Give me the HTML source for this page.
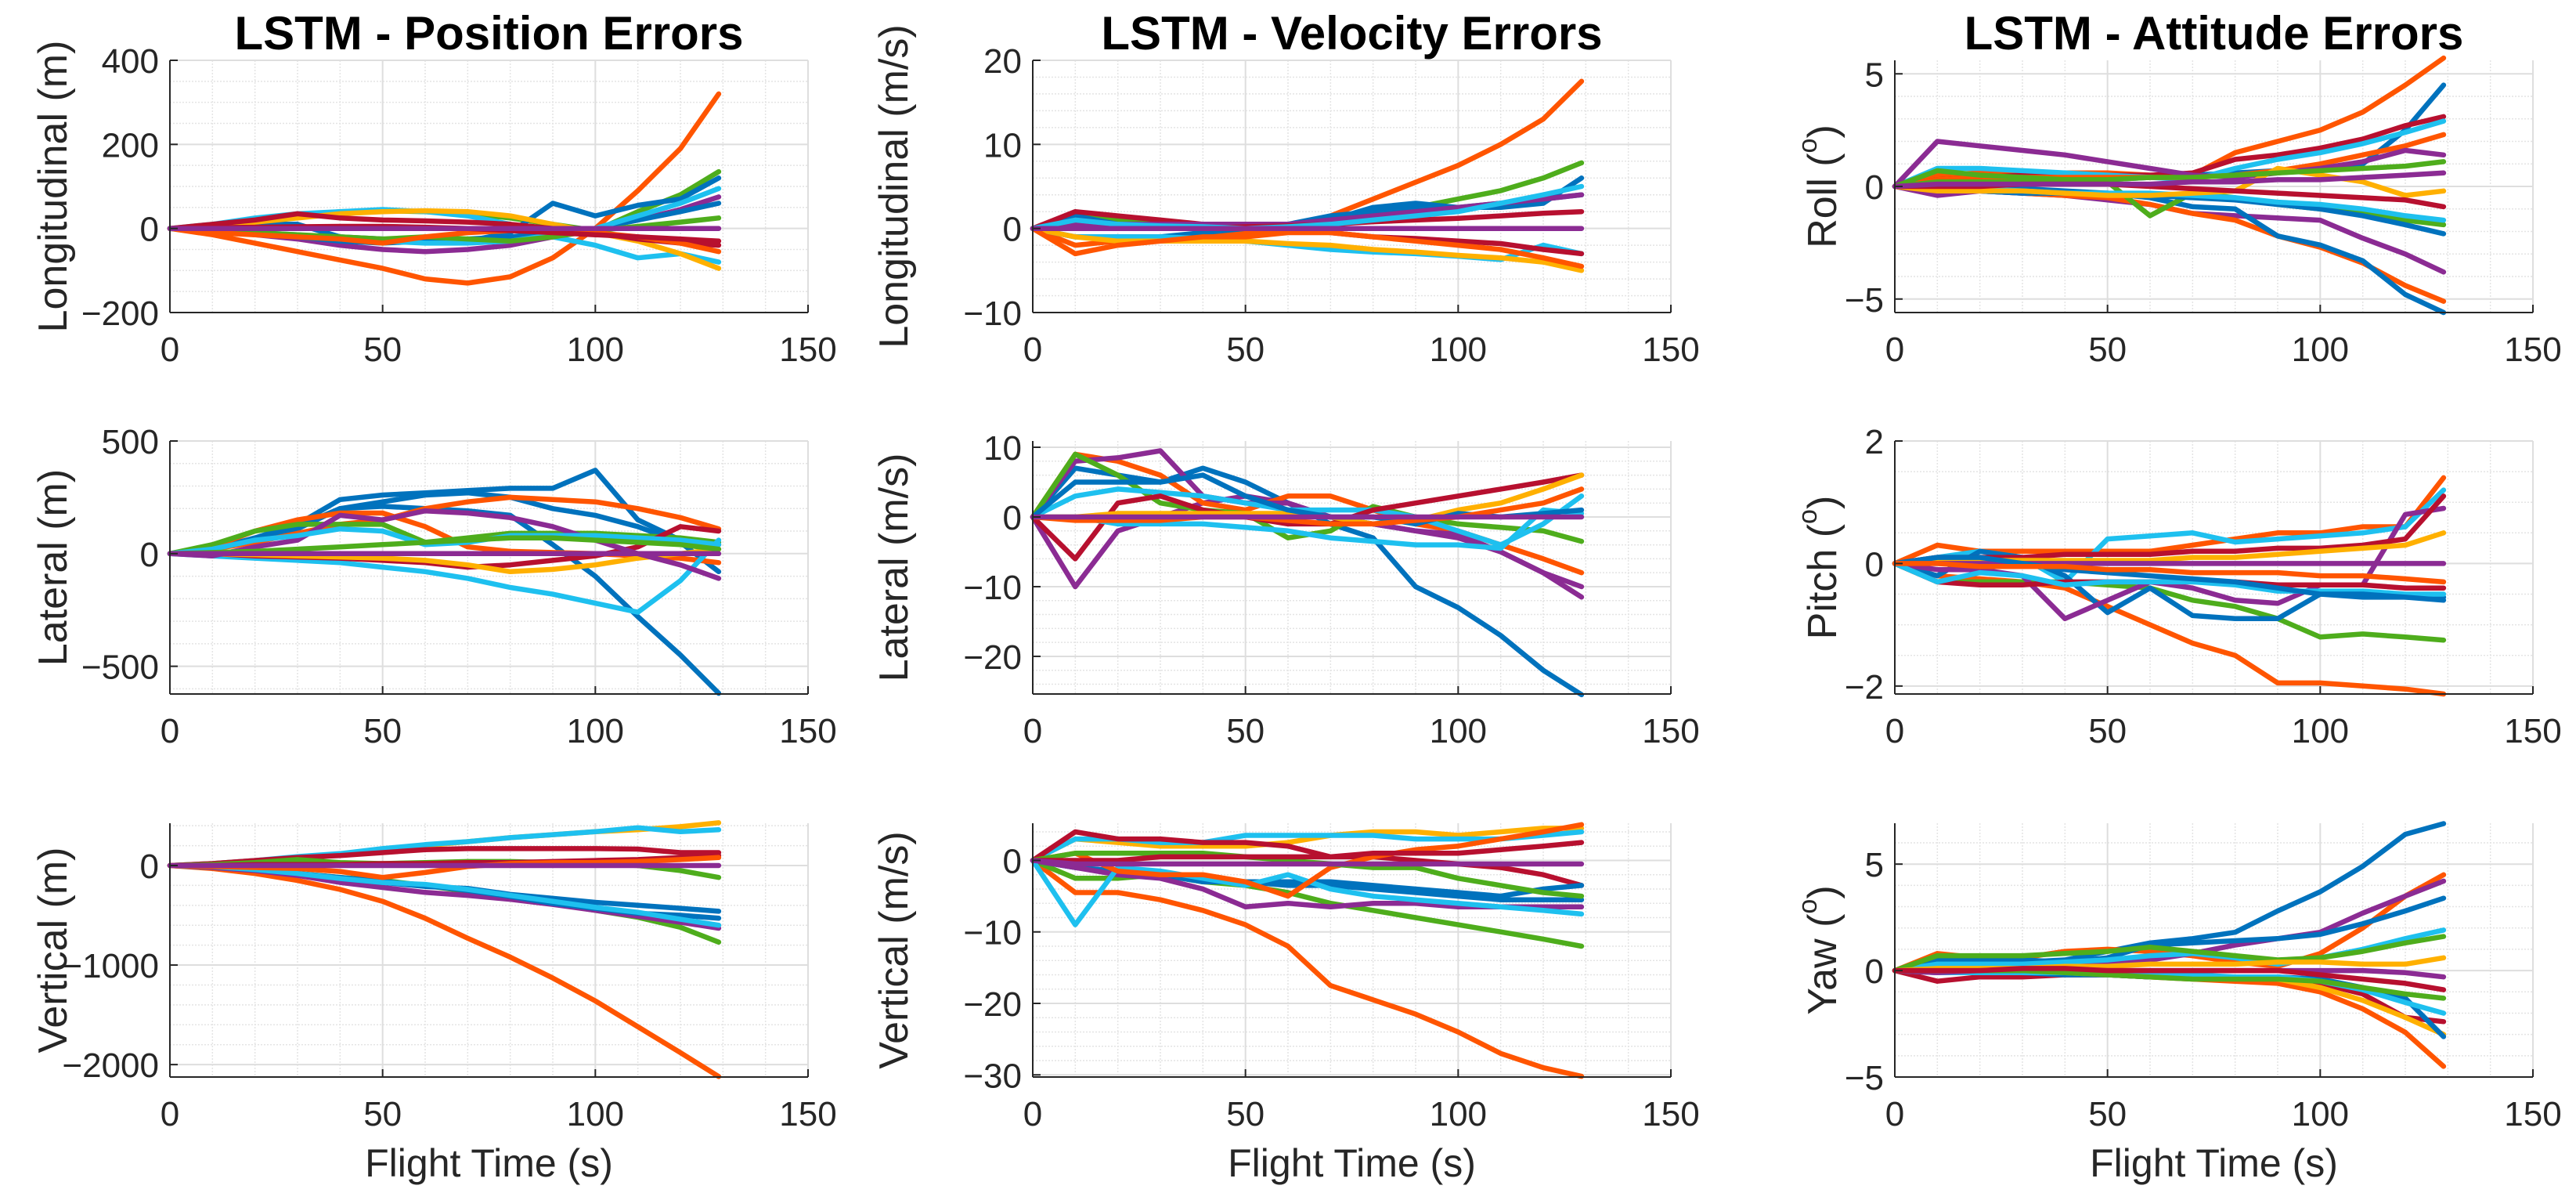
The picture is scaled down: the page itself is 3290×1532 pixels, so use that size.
<!DOCTYPE html>
<html><head><meta charset="utf-8">
<style>
html,body{margin:0;padding:0;background:#fff;}
svg{display:block;font-family:"Liberation Sans",Arial,sans-serif;}
</style></head>
<body>
<svg id="fig" width="3290" height="1532" viewBox="0 0 3290 1532" xmlns="http://www.w3.org/2000/svg"></svg>
<script>
// ---- data ----
const T = [0,10,20,30,40,50,60,70,80,90,100,110,120,129];
const xTicks = [0,50,100,150];

const posLong = [
 [0,-15,-35,-55,-75,-95,-120,-130,-115,-70,0,90,190,320],
 [0,5,20,30,40,42,40,35,25,10,-5,40,80,135],
 [0,3,10,10,-20,-25,-30,-30,-10,60,30,55,70,120],
 [0,10,25,35,40,45,40,30,10,-20,-40,-70,-60,-80],
 [0,5,15,25,35,40,42,40,30,10,-10,-30,-60,-95],
 [0,10,20,35,25,20,18,15,10,0,-10,-25,-35,-40],
 [0,-5,-15,-25,-40,-50,-55,-50,-40,-20,0,20,45,75],
 [0,-5,-10,-20,-30,-35,-30,-25,-20,-10,0,20,40,60],
 [0,-5,-10,-15,-25,-30,-35,-35,-30,-15,0,30,60,95],
 [0,-5,-10,-15,-20,-25,-20,-25,-30,-20,-5,5,15,25],
 [0,-10,-15,-20,-25,-35,-20,-10,-5,-5,-10,-20,-35,-55],
 [0,2,3,4,5,5,3,0,-5,-10,-15,-20,-25,-30],
 [0,0,0,0,0,0,0,0,0,0,0,0,0,0]];
const posLongColors = ["o","g","b","c","y","r","p","b","c","g","o","r","p"];

const posLat = [
 [0,20,70,130,240,260,270,280,290,290,370,150,60,40],
 [0,20,60,120,200,210,200,190,170,40,-100,-280,-450,-620],
 [0,20,60,110,200,230,260,270,250,200,170,120,50,-80],
 [0,20,50,90,130,150,200,230,250,240,230,200,160,110],
 [0,30,100,150,180,180,120,30,10,5,0,-10,-20,-40],
 [0,40,100,130,130,130,50,70,90,90,90,80,70,50],
 [0,-10,-20,-30,-40,-60,-80,-110,-150,-180,-220,-260,-120,60],
 [0,0,-10,-15,-20,-30,-40,-60,-50,-30,-10,30,120,100],
 [0,0,-5,-10,-15,-20,-30,-50,-80,-70,-50,-20,0,20],
 [0,-10,30,60,170,150,190,180,160,120,60,0,-50,-110],
 [0,20,60,80,110,100,40,50,80,80,80,70,60,40],
 [0,5,10,20,30,40,50,60,70,70,60,50,40,20],
 [0,0,0,0,0,0,0,0,0,0,0,0,0,0]];
const posLatColors = ["b","b","b","o","o","g","c","r","y","p","c","g","p"];

const posVert = [
 [0,-30,-80,-150,-240,-360,-530,-730,-920,-1130,-1360,-1620,-1880,-2120],
 [0,20,50,80,110,160,200,240,280,310,340,360,390,430],
 [0,20,50,90,120,170,210,240,280,310,340,380,340,360],
 [0,20,50,80,100,130,160,170,170,170,170,165,130,130],
 [0,-20,-50,-80,-120,-150,-200,-260,-320,-380,-450,-520,-620,-770],
 [0,-20,-50,-100,-170,-220,-270,-300,-340,-390,-450,-510,-570,-630],
 [0,-10,-40,-80,-130,-170,-210,-230,-290,-330,-370,-400,-430,-460],
 [0,-10,-40,-80,-120,-160,-200,-250,-310,-380,-430,-480,-500,-530],
 [0,-10,-40,-80,-130,-170,-190,-240,-300,-360,-420,-470,-540,-600],
 [0,10,30,60,30,20,30,40,40,30,20,0,-50,-120],
 [0,0,10,10,10,20,20,30,30,40,50,60,80,100],
 [0,-10,-20,-30,-60,-120,-70,-10,20,30,30,40,60,80],
 [0,0,0,0,0,0,0,0,0,0,0,0,0,0]];
const posVertColors = ["o","y","c","r","g","p","b","b","c","g","r","o","p"];

const velLong = [
 [0,-2,-1.5,-1,-0.8,-0.5,0,1.5,3.5,5.5,7.5,10,13,17.5],
 [0,1.5,1,0.5,0,0,0.3,1,1.5,2.5,3.5,4.5,6,7.8],
 [0,1.5,0.5,0,0,0,0.5,1,2.5,3,2.5,2.5,3,6],
 [0,-1,-1,-1,-0.5,0,0.5,1.5,2,2.5,2.5,3,3.5,4],
 [0,-1,-1,-1,-1.2,-1.5,-2,-2.5,-2.8,-3,-3.3,-3.7,-2,-3],
 [0,-1,-1.5,-1.5,-1.5,-1.5,-1.8,-2,-2.5,-2.8,-3.2,-3.5,-4,-5],
 [0,2,1.5,1,0.5,0.3,0,-0.5,-1,-1.2,-1.5,-1.8,-2.5,-3],
 [0,0.5,0.5,0.5,0.5,0.5,0.5,1,1.5,2,2.5,3,3.5,4],
 [0,-3,-2,-1.5,-1,-1,-0.5,-0.5,-1,-1.5,-2,-2.5,-3.5,-4.5],
 [0,1,0.5,0,0,0.2,0.3,0.5,0.8,1,1.2,1.5,1.8,2],
 [0,1,0.5,0.3,0.2,0,0.2,0.5,1,1.5,2,3,4,5],
 [0,0,0,0,0,0,0,0,0,0,0,0,0,0]];
const velLongColors = ["o","g","b","b","c","y","r","p","o","r","c","p"];

const velLat = [
 [0,7,6,5,7,5,2,-1,-3,-10,-13,-17,-22,-25.5],
 [0,-10,-2,0,2,3,2,0,-1,-2,-3,-5,-8,-11.5],
 [0,9,8,6,2,1,3,3,1,-1,-2,-4,-6,-8],
 [0,8,8.5,9.5,3,2,2,0,-1,-2,-2.5,-5,-8,-10],
 [0,9,6,2,1,0.5,-3,-2,1.5,0,-1,-1.5,-2,-3.5],
 [0,3,4,3.5,3,2,1,1,1,0,-2,-4,-1,3],
 [0,-6,2,3,1,0,-1,-1,1,2,3,4,5,6],
 [0,0,-1,-1,-1,-1.5,-2,-3,-3.5,-4,-4,-4.5,1,0.5],
 [0,0,0.5,0.5,0.5,0.5,0.5,0,-1,-0.5,1,2,4,6],
 [0,5,5,5,6,3,1,0,0,-1,0.5,0,0.5,1],
 [0,-0.5,-0.5,-0.5,0,0,-0.5,-1,-1,-0.5,0,1,2,4],
 [0,0,0,0,0,0,0,0,0,0,0,0,0,0]];
const velLatColors = ["b","p","o","p","g","c","r","c","y","b","o","p"];

const velVert = [
 [0,-4.5,-4.5,-5.5,-7,-9,-12,-17.5,-19.5,-21.5,-24,-27,-29,-30.2],
 [0,-2.5,-2.5,-2,-3,-3.5,-4.5,-6,-7,-8,-9,-10,-11,-12],
 [0,3,2.5,2,2,2,2.5,3.5,4,4,3.5,4,4.5,4.5],
 [0,3,3,2.5,2.5,3.5,3.5,3.5,3.5,3,3,3,3.5,4],
 [0,4,3,3,2.5,2.5,2,0.5,0.5,0,-0.5,-1,-2,-3.5],
 [0,-1,-1.5,-2,-3,-3,-3.5,-3.5,-4,-4.5,-5,-5.5,-5.5,-5.5],
 [0,-1,-1.5,-2,-2.5,-3,-3,-3,-3.5,-4,-4.5,-5,-4,-3.5],
 [0,-1,-2,-2.5,-4,-6.5,-6,-6.5,-6,-6,-6.5,-6.5,-6.5,-6.5],
 [0,-9,-1,-1.5,-2.5,-3.5,-2,-4,-5,-5.5,-6,-6.5,-7,-7.5],
 [0,1,-1.5,-2,-2,-3,-5,-1,0.5,1.5,2,3,4,5],
 [0,1,1,1,1,0.5,0,-0.5,-1,-1,-2.5,-3.5,-4.5,-5],
 [0,0,0,0.5,0.5,0.5,0.5,0.5,1,1,1,1.5,2,2.5],
 [0,-0.5,-0.5,-0.5,-0.5,-0.5,-0.5,-0.5,-0.5,-0.5,-0.5,-0.5,-0.5,-0.5]];
const velVertColors = ["o","g","y","c","r","b","b","p","c","o","g","r","p"];

const attRoll = [
 [0,0.5,0.6,0.6,0.6,0.6,0.5,0.5,1.5,2,2.5,3.3,4.5,5.7],
 [0,0.2,0.3,0.3,0.3,0.3,0.4,0.5,0.6,0.7,0.8,1,2.5,4.5],
 [0,0.3,0.4,0.5,0.5,0.5,0.5,0.6,1.2,1.4,1.7,2.1,2.7,3.1],
 [0,0.8,0.8,0.7,0.6,0.5,0.4,0.3,0.8,1.2,1.5,1.9,2.4,2.9],
 [0,0.3,0.4,0.4,0.4,0.4,0.4,0.4,0.5,0.7,1,1.4,1.8,2.3],
 [0,2,1.8,1.6,1.4,1.1,0.8,0.5,0.4,0.6,0.8,1.1,1.6,1.4],
 [0,-0.4,-0.2,-0.3,-0.4,-0.6,-0.8,-1.2,-1.3,-1.4,-1.5,-2.3,-3,-3.8],
 [0,-0.1,-0.2,-0.3,-0.4,-0.5,-0.8,-1.2,-1.5,-2.2,-2.7,-3.4,-4.4,-5.1],
 [0,-0.1,-0.2,-0.3,-0.3,-0.3,-0.5,-0.9,-1,-2.2,-2.6,-3.3,-4.8,-5.6],
 [0,0.7,0.5,0.4,0.3,0.2,-1.3,-0.3,-0.5,-0.8,-1,-1.2,-1.5,-1.7],
 [0,0.1,0,-0.1,-0.2,-0.3,-0.4,-0.5,-0.6,-0.8,-1,-1.3,-1.7,-2.1],
 [0,0,-0.1,-0.2,-0.3,-0.3,-0.3,-0.4,-0.5,-0.7,-0.8,-1,-1.3,-1.5],
 [0,-0.2,-0.2,-0.2,-0.3,-0.4,-0.4,-0.3,-0.2,0.8,0.5,0.2,-0.4,-0.2],
 [0,0.2,0.2,0.2,0.3,0.3,0.4,0.4,0.5,0.6,0.7,0.8,0.9,1.1],
 [0,0,0,0.1,0.1,0.1,0,-0.1,-0.2,-0.3,-0.4,-0.5,-0.6,-0.9],
 [0,0.1,0.1,0.1,0.1,0.1,0.1,0.2,0.2,0.3,0.3,0.4,0.5,0.6]];
const attRollColors = ["o","b","r","c","o","p","p","o","b","g","b","c","y","g","r","p"];

const attPitch = [
 [0,-0.2,-0.25,-0.3,-0.4,-0.7,-1,-1.3,-1.5,-1.95,-1.95,-2,-2.05,-2.13],
 [0,-0.3,-0.3,-0.3,-0.3,-0.35,-0.4,-0.6,-0.7,-0.9,-1.2,-1.15,-1.2,-1.25],
 [0,0.3,0.2,0.2,0.2,0.2,0.2,0.3,0.4,0.5,0.5,0.6,0.6,1.4],
 [0,0.1,0.2,0.1,-0.3,0.4,0.45,0.5,0.35,0.4,0.45,0.5,0.6,1.2],
 [0,-0.2,0.2,0.1,-0.2,-0.8,-0.4,-0.85,-0.9,-0.9,-0.5,-0.55,-0.55,-0.55],
 [0,-0.1,-0.1,-0.2,-0.9,-0.6,-0.3,-0.4,-0.6,-0.65,-0.35,-0.35,0.8,0.9],
 [0,-0.3,-0.35,-0.35,-0.3,-0.3,-0.3,-0.3,-0.3,-0.35,-0.35,-0.35,-0.4,-0.4],
 [0,0.1,0.1,0.1,0.15,0.15,0.15,0.2,0.2,0.25,0.25,0.3,0.4,1.1],
 [0,0.05,0.05,0.05,0.05,0.05,0.05,0.1,0.1,0.15,0.2,0.25,0.3,0.5],
 [0,-0.3,-0.15,-0.2,-0.35,-0.3,-0.3,-0.3,-0.35,-0.45,-0.45,-0.45,-0.5,-0.5],
 [0,0,0,0,0,0,0,0,0,0,0,0,0,0],
 [0,0.1,0.1,0,-0.1,-0.15,-0.2,-0.25,-0.3,-0.4,-0.5,-0.5,-0.55,-0.6],
 [0,0,-0.05,-0.05,-0.05,-0.1,-0.1,-0.15,-0.15,-0.15,-0.2,-0.2,-0.25,-0.3]];
const attPitchColors = ["o","g","o","c","b","p","r","r","y","c","p","b","o"];

const attYaw = [
 [0,0.5,0.5,0.4,0.5,0.9,1.3,1.5,1.8,2.8,3.7,4.9,6.4,6.9],
 [0,0.8,0.6,0.6,0.9,1,0.9,0.7,0.4,0.2,0.8,2,3.5,4.5],
 [0,-0.1,0,0.1,0.2,0.3,0.5,0.8,1.2,1.5,1.8,2.7,3.5,4.2],
 [0,0.5,0.5,0.5,0.4,0.6,1.2,1.3,1.4,1.5,1.7,2.2,2.8,3.4],
 [0,0.3,0.3,0.3,0.4,0.5,0.7,0.8,0.6,0.3,0.6,1,1.5,1.9],
 [0,0.7,0.7,0.7,0.8,0.9,1.1,0.9,0.7,0.5,0.6,0.9,1.3,1.6],
 [0,0,0,-0.1,-0.2,-0.2,-0.3,-0.4,-0.5,-0.6,-1,-1.8,-2.9,-4.5],
 [0,-0.5,-0.3,-0.3,-0.2,-0.2,-0.3,-0.3,-0.3,-0.3,-0.6,-1.1,-2.2,-2.4],
 [0,0,0,-0.1,-0.1,-0.2,-0.2,-0.3,-0.3,-0.4,-0.8,-1.4,-2.2,-3],
 [0,0,-0.1,-0.1,-0.2,-0.2,-0.3,-0.3,-0.3,-0.3,-0.4,-0.8,-1.3,-3.1],
 [0,-0.1,-0.1,-0.1,-0.1,-0.2,-0.2,-0.2,-0.3,-0.3,-0.5,-0.9,-1.5,-2],
 [0,0.1,0.1,0.1,0.2,0.2,0.3,0.3,0.3,0.4,0.4,0.3,0.3,0.6],
 [0,-0.1,0,0,0,0,0,0,0,0,0,0,-0.1,-0.3],
 [0,0,0,0,-0.1,-0.2,-0.3,-0.4,-0.4,-0.4,-0.5,-0.8,-1.1,-1.3],
 [0,0,0,0.1,0.1,0,0,0,0,0,-0.2,-0.4,-0.6,-0.9]];
const attYawColors = ["b","o","p","b","c","g","o","r","y","b","c","y","p","g","r"];

// ---- rendering ----
const PAL = {b:"#0072BD",o:"#FF5500",y:"#FFB000",p:"#8B2B93",g:"#4EAD1C",c:"#1EC0EF",r:"#B7102F"};
const NS = "http://www.w3.org/2000/svg";
const svg = document.getElementById("fig");
function mk(tag, attrs, parent){
  const e = document.createElementNS(NS, tag);
  for (const k in attrs) e.setAttribute(k, attrs[k]);
  (parent||svg).appendChild(e);
  return e;
}
const COLX = [217, 1319, 2420];
const AXW = 815;
const ROWY = [[77,399],[563,886],[1051,1375]];
const LABX = [68, 1142, 2328];

const panels = [
 {c:0,r:0,data:posLong,cols:posLongColors,ymin:-200,ymax:400,major:200,minor:50,label:"Longitudinal (m)",name:"position-longitudinal"},
 {c:0,r:1,data:posLat,cols:posLatColors,ymin:-623,ymax:500,major:500,minor:100,label:"Lateral (m)",name:"position-lateral"},
 {c:0,r:2,data:posVert,cols:posVertColors,ymin:-2125,ymax:425,major:1000,minor:200,label:"Vertical (m)",name:"position-vertical"},
 {c:1,r:0,data:velLong,cols:velLongColors,ymin:-10,ymax:20,major:10,minor:2,label:"Longitudinal (m/s)",name:"velocity-longitudinal"},
 {c:1,r:1,data:velLat,cols:velLatColors,ymin:-25.4,ymax:10.9,major:10,minor:2,label:"Lateral (m/s)",name:"velocity-lateral"},
 {c:1,r:2,data:velVert,cols:velVertColors,ymin:-30.3,ymax:5.2,major:10,minor:2,label:"Vertical (m/s)",name:"velocity-vertical"},
 {c:2,r:0,data:attRoll,cols:attRollColors,ymin:-5.6,ymax:5.6,major:5,minor:1,label:"Roll",deg:true,name:"attitude-roll"},
 {c:2,r:1,data:attPitch,cols:attPitchColors,ymin:-2.13,ymax:2,major:2,minor:0.5,label:"Pitch",deg:true,name:"attitude-pitch"},
 {c:2,r:2,data:attYaw,cols:attYawColors,ymin:-5,ymax:6.92,major:5,minor:1,label:"Yaw",deg:true,name:"attitude-yaw"}
];
const titles = ["LSTM - Position Errors","LSTM - Velocity Errors","LSTM - Attitude Errors"];
titles.forEach((t,i)=>{
  const e = mk("text",{x:COLX[i]+AXW/2,y:63,"text-anchor":"middle","font-size":"60","font-weight":"bold",fill:"#000"});
  
  
  e.textContent = t;
});

panels.forEach(P=>{
  const x0 = COLX[P.c], x1 = x0 + AXW, yT = ROWY[P.r][0], yB = ROWY[P.r][1];
  const sx = v => x0 + (v-0)/(150-0)*AXW;
  const sy = v => yB - (v-P.ymin)/(P.ymax-P.ymin)*(yB-yT);
  const g = mk("g",{});
  
  
  for (let v=10; v<150; v+=10){ if (v%50) mk("line",{x1:sx(v),x2:sx(v),y1:yT,y2:yB,stroke:"#e4e4e4","stroke-width":1.5,"stroke-dasharray":"2,2"},g); }
  const s = Math.ceil(P.ymin/P.minor)*P.minor;
  for (let v=s; v<=P.ymax+1e-9; v+=P.minor){
    const q = Math.round(v/P.minor)*P.minor;
    if (Math.abs(q/P.major - Math.round(q/P.major))<1e-6) continue;
    mk("line",{x1:x0,x2:x1,y1:sy(q),y2:sy(q),stroke:"#e4e4e4","stroke-width":1.5,"stroke-dasharray":"2,2"},g);
  }
  xTicks.forEach(v=>{ if(v>0) mk("line",{x1:sx(v),x2:sx(v),y1:yT,y2:yB,stroke:"#dedede","stroke-width":2},g); });
  const yt = [];
  for (let v=Math.ceil(P.ymin/P.major)*P.major; v<=P.ymax+1e-9; v+=P.major) yt.push(v);
  yt.forEach(v=>{ mk("line",{x1:x0,x2:x1,y1:sy(v),y2:sy(v),stroke:"#dedede","stroke-width":2},g); });
  P.data.forEach((ser,i)=>{
    const d = ser.map((v,k)=>(k?"L":"M")+sx(T[k]).toFixed(1)+","+sy(v).toFixed(1)).join(" ");
    const p = mk("path",{d:d,fill:"none",stroke:PAL[P.cols[i]],"stroke-width":6.5,"stroke-linejoin":"round","stroke-linecap":"round"},g);
    
    
  });
  mk("line",{x1:x0,x2:x0,y1:yT,y2:yB,stroke:"#262626","stroke-width":2},g);
  mk("line",{x1:x0,x2:x1,y1:yB,y2:yB,stroke:"#262626","stroke-width":2},g);
  xTicks.forEach(v=>{
    mk("line",{x1:sx(v),x2:sx(v),y1:yB,y2:yB-10,stroke:"#262626","stroke-width":2},g);
    const t = mk("text",{x:sx(v),y:yB+62,"text-anchor":"middle","font-size":"44",fill:"#262626"},g);
    
    
    t.textContent = v;
  });
  yt.forEach(v=>{
    mk("line",{x1:x0,x2:x0+10,y1:sy(v),y2:sy(v),stroke:"#262626","stroke-width":2},g);
    const t = mk("text",{x:x0-14,y:sy(v)+16,"text-anchor":"end","font-size":"44",fill:"#262626"},g);
    
    
    t.textContent = (v<0?"\u2212":"")+Math.abs(v);
  });
  const cy = (yT+yB)/2, lx = LABX[P.c];
  const yl = mk("text",{x:lx,y:cy,transform:`rotate(-90 ${lx} ${cy})`,"text-anchor":"middle","dominant-baseline":"central","font-size":"52",fill:"#262626"},g);
  
  
  if (P.deg){
    yl.appendChild(document.createTextNode(P.label+" ("));
    const sp = mk("tspan",{"baseline-shift":"super","font-size":"34"},yl);
    sp.textContent = "o";
    yl.appendChild(document.createTextNode(")"));
  } else yl.textContent = P.label;
  if (P.r===2){
    const xl = mk("text",{x:x0+AXW/2,y:1502,"text-anchor":"middle","font-size":"50",fill:"#262626"},g);
    
    
    xl.textContent = "Flight Time (s)";
  }
});
</script>
</body></html>
